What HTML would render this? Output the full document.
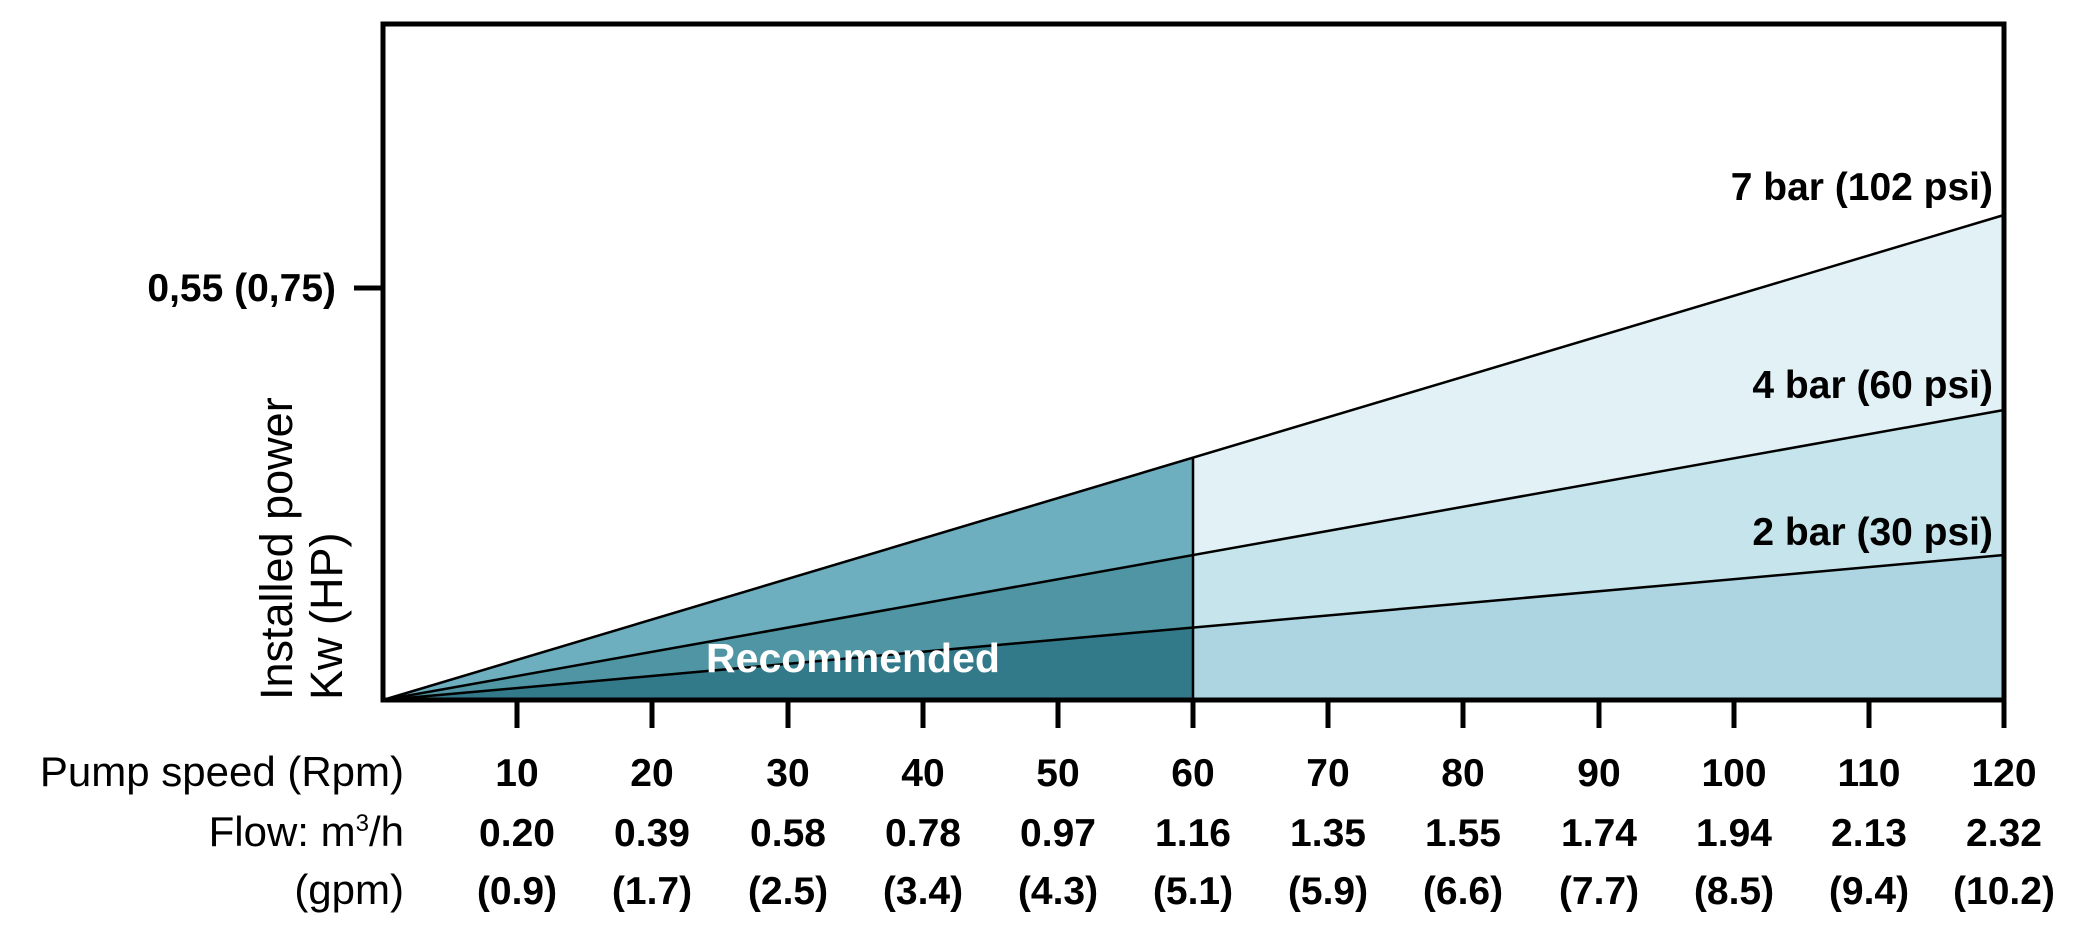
<!DOCTYPE html>
<html><head><meta charset="utf-8"><style>
html,body{margin:0;padding:0;background:#fff;}
svg{display:block;}
text{font-family:"Liberation Sans",sans-serif;fill:#000;}
.b{font-weight:bold;font-size:39px;}
.r{font-size:42px;}
</style></head><body>
<svg width="2087" height="946" viewBox="0 0 2087 946">
<polygon points="383,700 1193,458 1193,700" fill="#6daebf"/>
<polygon points="383,700 1193,555 1193,700" fill="#4f95a3"/>
<polygon points="383,700 1193,627 1193,700" fill="#32798a"/>
<polygon points="1193,458 2004,215 2004,700 1193,700" fill="#e2f1f6"/>
<polygon points="1193,555 2004,410 2004,700 1193,700" fill="#c6e4eb"/>
<polygon points="1193,627 2004,555 2004,700 1193,700" fill="#acd5e1"/>
<g stroke="#000" stroke-width="2.5" fill="none">
<line x1="383" y1="700" x2="2004" y2="215"/>
<line x1="383" y1="700" x2="2004" y2="410"/>
<line x1="383" y1="700" x2="2004" y2="555"/>
<line x1="1193" y1="458" x2="1193" y2="700"/>
</g>
<rect x="383" y="24" width="1621" height="676" fill="none" stroke="#000" stroke-width="5"/>
<g stroke="#000" stroke-width="5">
<line x1="354" y1="288" x2="383" y2="288"/>
<line x1="517" y1="700" x2="517" y2="728"/>
<line x1="652" y1="700" x2="652" y2="728"/>
<line x1="788" y1="700" x2="788" y2="728"/>
<line x1="923" y1="700" x2="923" y2="728"/>
<line x1="1058" y1="700" x2="1058" y2="728"/>
<line x1="1193" y1="700" x2="1193" y2="728"/>
<line x1="1328" y1="700" x2="1328" y2="728"/>
<line x1="1463" y1="700" x2="1463" y2="728"/>
<line x1="1599" y1="700" x2="1599" y2="728"/>
<line x1="1734" y1="700" x2="1734" y2="728"/>
<line x1="1869" y1="700" x2="1869" y2="728"/>
<line x1="2004" y1="700" x2="2004" y2="728"/>
</g>
<text class="b" x="336" y="301" text-anchor="end">0,55 (0,75)</text>
<text class="r" transform="translate(292,700) rotate(-90)" style="font-size:45px">Installed power</text>
<text class="r" transform="translate(342,700) rotate(-90)" style="font-size:45px">Kw (HP)</text>
<text class="b" x="853" y="672" text-anchor="middle" style="fill:#fff;font-size:41px">Recommended</text>
<text class="b" x="1993" y="200" text-anchor="end">7 bar (102 psi)</text>
<text class="b" x="1993" y="398" text-anchor="end">4 bar (60 psi)</text>
<text class="b" x="1993" y="545" text-anchor="end">2 bar (30 psi)</text>
<text class="r" x="404" y="786" text-anchor="end">Pump speed (Rpm)</text>
<text class="r" x="404" y="846" text-anchor="end">Flow: m<tspan dy="-15" font-size="24">3</tspan><tspan dy="15">/h</tspan></text>
<text class="r" x="404" y="904" text-anchor="end">(gpm)</text>
<g class="b" text-anchor="middle">
<text x="517" y="786">10</text><text x="652" y="786">20</text><text x="788" y="786">30</text><text x="923" y="786">40</text><text x="1058" y="786">50</text><text x="1193" y="786">60</text><text x="1328" y="786">70</text><text x="1463" y="786">80</text><text x="1599" y="786">90</text><text x="1734" y="786">100</text><text x="1869" y="786">110</text><text x="2004" y="786">120</text>
<text x="517" y="846">0.20</text><text x="652" y="846">0.39</text><text x="788" y="846">0.58</text><text x="923" y="846">0.78</text><text x="1058" y="846">0.97</text><text x="1193" y="846">1.16</text><text x="1328" y="846">1.35</text><text x="1463" y="846">1.55</text><text x="1599" y="846">1.74</text><text x="1734" y="846">1.94</text><text x="1869" y="846">2.13</text><text x="2004" y="846">2.32</text>
<text x="517" y="904">(0.9)</text><text x="652" y="904">(1.7)</text><text x="788" y="904">(2.5)</text><text x="923" y="904">(3.4)</text><text x="1058" y="904">(4.3)</text><text x="1193" y="904">(5.1)</text><text x="1328" y="904">(5.9)</text><text x="1463" y="904">(6.6)</text><text x="1599" y="904">(7.7)</text><text x="1734" y="904">(8.5)</text><text x="1869" y="904">(9.4)</text><text x="2004" y="904">(10.2)</text>
</g>
</svg>
</body></html>
